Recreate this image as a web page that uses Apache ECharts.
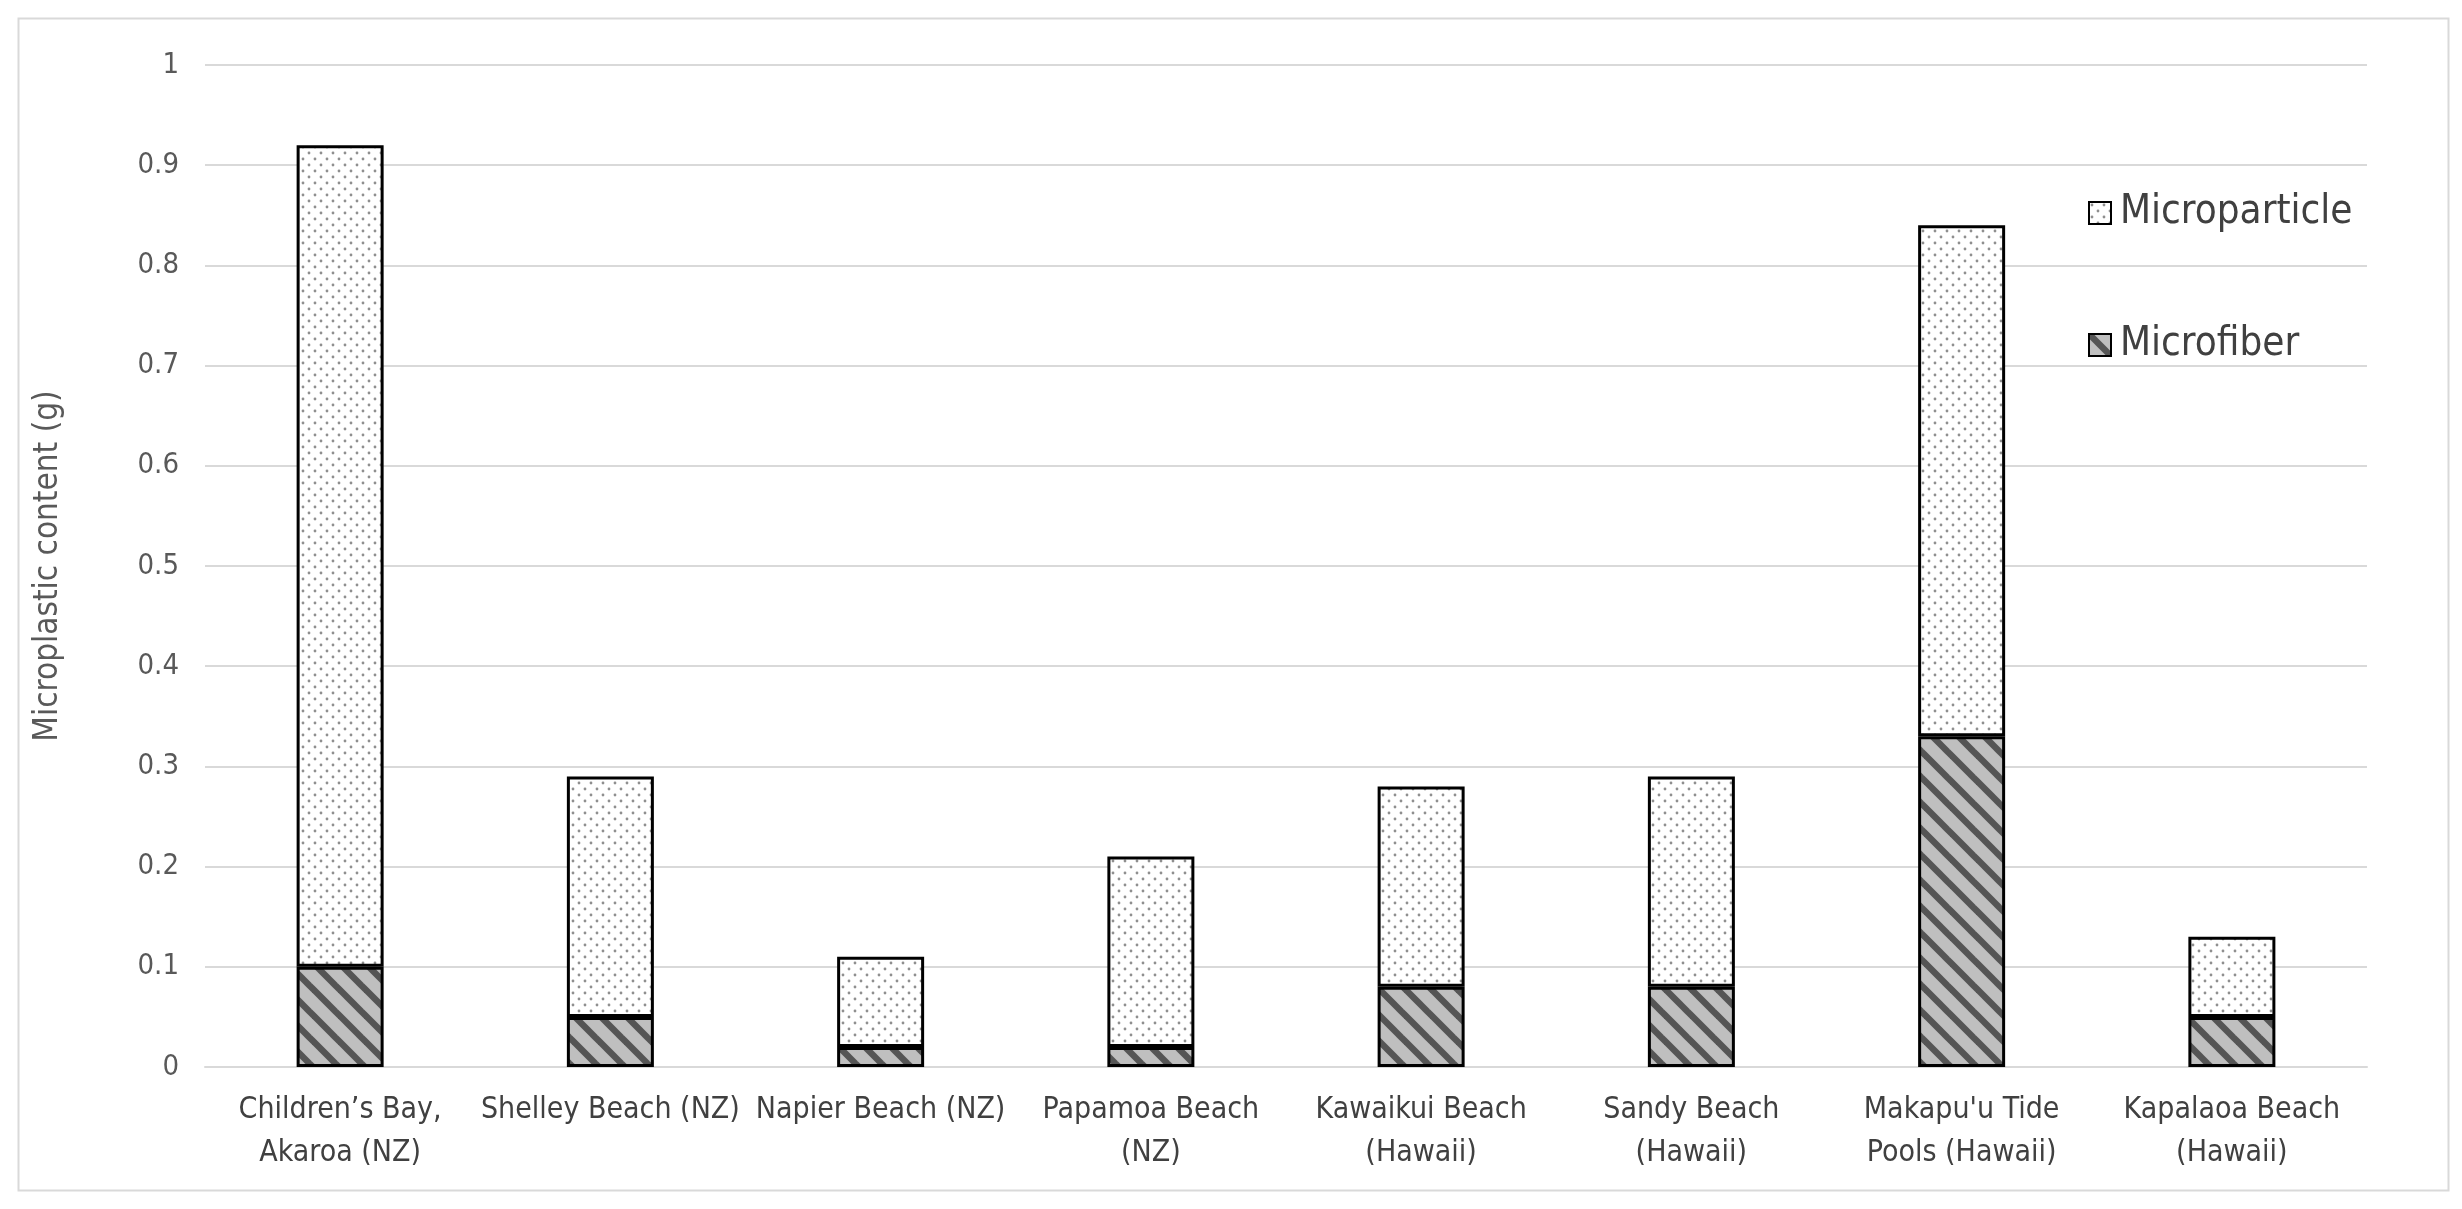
<!DOCTYPE html>
<html>
<head>
<meta charset="utf-8">
<script src="https://cdn.jsdelivr.net/npm/echarts@6/dist/echarts.min.js"></script>
<style>
html,body{margin:0;padding:0;background:#fff;}
#chart{width:2462px;height:1209px;}
</style>
</head>
<body>
<div id="chart"></div>
<script>
const categories = [
  "Children\u2019s Bay,\nAkaroa (NZ)",
  "Shelley Beach (NZ)",
  "Napier Beach (NZ)",
  "Papamoa Beach\n(NZ)",
  "Kawaikui Beach\n(Hawaii)",
  "Sandy Beach\n(Hawaii)",
  "Makapu'u Tide\nPools (Hawaii)",
  "Kapalaoa Beach\n(Hawaii)"
];
const microfiber = [0.10, 0.05, 0.02, 0.02, 0.08, 0.08, 0.33, 0.05];
const microparticle = [0.82, 0.24, 0.09, 0.19, 0.20, 0.21, 0.51, 0.08];
const yTicks = { min: 0, max: 1, interval: 0.1 };

function dotPattern() {
  const c = document.createElement('canvas');
  c.width = 12; c.height = 12;
  const g = c.getContext('2d');
  g.fillStyle = '#ffffff'; g.fillRect(0, 0, 12, 12);
  g.fillStyle = '#8f8f8f';
  [[3, 3], [9, 9]].forEach(p => { g.beginPath(); g.arc(p[0], p[1], 1.4, 0, Math.PI * 2); g.fill(); });
  return c;
}
function stripePattern() {
  const w = 26, h = 26;
  const c = document.createElement('canvas');
  c.width = w; c.height = h;
  const g = c.getContext('2d');
  g.fillStyle = '#bfbfbf'; g.fillRect(0, 0, w, h);
  g.strokeStyle = '#555555'; g.lineWidth = 6.5;
  for (let k = -1; k <= 1; k++) {
    g.beginPath(); g.moveTo(-w, -h + k * h); g.lineTo(2 * w, 2 * h + k * h); g.stroke();
  }
  return c;
}

const fontFam = '"Liberation Sans Narrow","DejaVu Sans Condensed","Lato",sans-serif';
const chart = echarts.init(document.getElementById('chart'), null, { renderer: 'canvas' });
chart.setOption({
  backgroundColor: '#ffffff',
  animation: false,
  textStyle: { fontFamily: fontFam },
  graphic: [{
    type: 'rect', left: 16, top: 16,
    shape: { width: 2430, height: 1172 },
    style: { fill: 'none', stroke: '#d9d9d9', lineWidth: 2 },
    silent: true
  }],
  grid: { left: 205, right: 95, top: 65, bottom: 142, containLabel: false },
  legend: {
    orient: 'vertical',
    left: 2083, top: 188,
    icon: 'rect',
    itemWidth: 22, itemHeight: 22,
    itemGap: 92,
    data: ['Microparticle', 'Microfiber'],
    textStyle: { fontSize: 40, color: '#404040', fontFamily: fontFam, padding: [0, 0, 0, 4] }
  },
  xAxis: {
    type: 'category',
    data: categories,
    axisLine: { lineStyle: { color: '#d9d9d9', width: 2 } },
    axisTick: { show: false },
    axisLabel: { interval: 0, fontSize: 30, color: '#404040', lineHeight: 43, margin: 22, fontFamily: fontFam }
  },
  yAxis: {
    type: 'value',
    min: yTicks.min, max: yTicks.max, interval: yTicks.interval,
    name: 'Microplastic content (g)',
    nameLocation: 'middle',
    nameGap: 140,
    nameTextStyle: { fontSize: 33, color: '#595959', fontFamily: fontFam },
    axisLine: { show: false },
    axisTick: { show: false },
    axisLabel: { fontSize: 29, color: '#595959', margin: 26, fontFamily: fontFam },
    splitLine: { lineStyle: { color: '#d9d9d9', width: 2 } }
  },
  series: [
    {
      name: 'Microfiber', type: 'bar', stack: 'total', barWidth: 87,
      data: microfiber,
      itemStyle: { color: { image: stripePattern(), repeat: 'repeat' }, borderColor: '#000', borderWidth: 3 }
    },
    {
      name: 'Microparticle', type: 'bar', stack: 'total', barWidth: 87,
      data: microparticle,
      itemStyle: { color: { image: dotPattern(), repeat: 'repeat' }, borderColor: '#000', borderWidth: 3 }
    }
  ]
});
</script>
</body>
</html>
